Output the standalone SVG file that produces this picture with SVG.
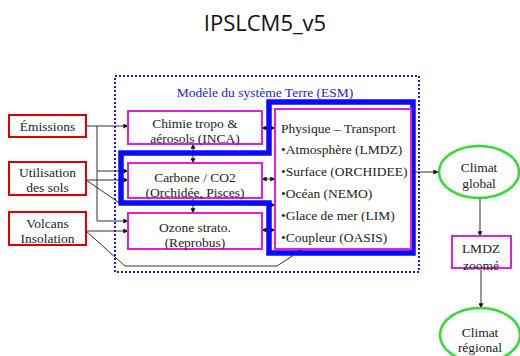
<svg xmlns="http://www.w3.org/2000/svg" width="520" height="356" viewBox="0 0 520 356">
<defs>
<marker id="ah" viewBox="0 0 8 8" refX="7.5" refY="4" markerWidth="5" markerHeight="5" orient="auto-start-reverse">
<path d="M0,0 L8,4 L0,8 z" fill="#111"/>
</marker>
</defs>
<style>
.t{font-family:Liberation Serif,DejaVu Serif,serif;font-size:13.5px;fill:#222;text-anchor:middle}
.tl{font-family:Liberation Serif,DejaVu Serif,serif;font-size:13.5px;fill:#222}
.red{fill:#fff;stroke:#e00000;stroke-width:2}
.mag{fill:#fff;stroke:#e020e0;stroke-width:2}
.grn{fill:#fff;stroke:#33dd33;stroke-width:2.5}
.c{fill:none;stroke:#333;stroke-width:1}
.a{marker-end:url(#ah)}
.b{marker-start:url(#ah);marker-end:url(#ah)}
</style>
<rect width="520" height="356" fill="#fff"/>
<text x="265" y="31" font-family="Open Sans, Liberation Sans, sans-serif" font-size="22" fill="#111" text-anchor="middle">IPSLCM5_v5</text>
<g id="esm">
<rect x="115" y="76" width="304" height="196" fill="none" stroke="#1a1aee" stroke-width="2" stroke-dasharray="2,2"/>
<text x="265" y="97" font-family="Liberation Serif, DejaVu Serif, serif" font-size="13.5" fill="#2222dd" text-anchor="middle">Modèle du système Terre (ESM)</text>
</g>
<g id="connectors">
<polyline class="c a" points="86,126 128,126"/>
<polyline class="c" points="97,126 97,221"/>
<polyline class="c a" points="97,171 128,171"/>
<polyline class="c a" points="97,221 128,221"/>
<polyline class="c a" points="86,180 128,180"/>
<polyline class="c a" points="86,180 121,204 275,205"/>
<polyline class="c a" points="86,231 128,231"/>
<polyline class="c a" points="86,231 125,266 277,266 303,249"/>
<line class="c b" x1="262" y1="128" x2="275" y2="128"/>
<line class="c b" x1="193" y1="144" x2="193" y2="163"/>
<line class="c b" x1="262" y1="179" x2="275" y2="179"/>
<line class="c a" x1="193" y1="198" x2="193" y2="213"/>
<line class="c b" x1="262" y1="230" x2="275" y2="230"/>
<line class="c a" x1="412" y1="172" x2="438" y2="172"/>
<line class="c a" x1="480" y1="198" x2="480" y2="236"/>
<line class="c a" x1="481" y1="270" x2="481" y2="308"/>
</g>
<g id="blue-frame">
<polygon points="269,102 413,102 413,253 269,253 269,203 121,203 121,153 269,153" fill="none" stroke="#0a0aff" stroke-width="5.5" stroke-linejoin="miter"/>
</g>
<g id="emissions">
<rect class="red" x="9" y="115" width="77" height="22"/>
<text class="t" x="47.5" y="131">Émissions</text>
</g>
<g id="utilisation">
<rect class="red" x="9" y="162" width="77" height="33"/>
<text class="t" x="47.5" y="177">Utilisation</text>
<text class="t" x="47.5" y="192">des sols</text>
</g>
<g id="volcans">
<rect class="red" x="9" y="212" width="77" height="33"/>
<text class="t" x="47.5" y="228">Volcans</text>
<text class="t" x="47.5" y="243">Insolation</text>
</g>
<g id="chimie">
<rect class="mag" x="128" y="111" width="134" height="33"/>
<text class="t" x="195" y="128">Chimie tropo &amp;</text>
<text class="t" x="195" y="143">aérosols (INCA)</text>
</g>
<g id="carbone">
<rect class="mag" x="128" y="163" width="134" height="35"/>
<text class="t" x="195" y="182">Carbone / CO2</text>
<text class="t" x="195" y="197">(Orchidée, Pisces)</text>
</g>
<g id="ozone">
<rect class="mag" x="128" y="213" width="134" height="36"/>
<text class="t" x="195" y="232">Ozone strato.</text>
<text class="t" x="195" y="247">(Reprobus)</text>
</g>
<g id="physique">
<rect class="mag" x="275" y="109" width="136" height="140" fill="none"/>
<text class="tl" x="281" y="133">Physique – Transport</text>
<text class="tl" x="281" y="154">•Atmosphère (LMDZ)</text>
<text class="tl" x="281" y="176">•Surface (ORCHIDEE)</text>
<text class="tl" x="281" y="198">•Océan (NEMO)</text>
<text class="tl" x="281" y="220">•Glace de mer (LIM)</text>
<text class="tl" x="281" y="242">•Coupleur (OASIS)</text>
</g>
<g id="climat-global">
<ellipse class="grn" cx="479" cy="172" rx="40" ry="26"/>
<text class="t" x="479" y="172">Climat</text>
<text class="t" x="479" y="188">global</text>
</g>
<g id="lmdz-zoome">
<rect class="mag" x="452" y="236" width="59" height="32"/>
<text class="t" x="481" y="253">LMDZ</text>
<text class="t" x="481" y="270">zoomé</text>
</g>
<g id="climat-regional">
<ellipse class="grn" cx="480" cy="335" rx="40" ry="27"/>
<text class="t" x="480" y="337">Climat</text>
<text class="t" x="480" y="352">régional</text>
</g>
</svg>
